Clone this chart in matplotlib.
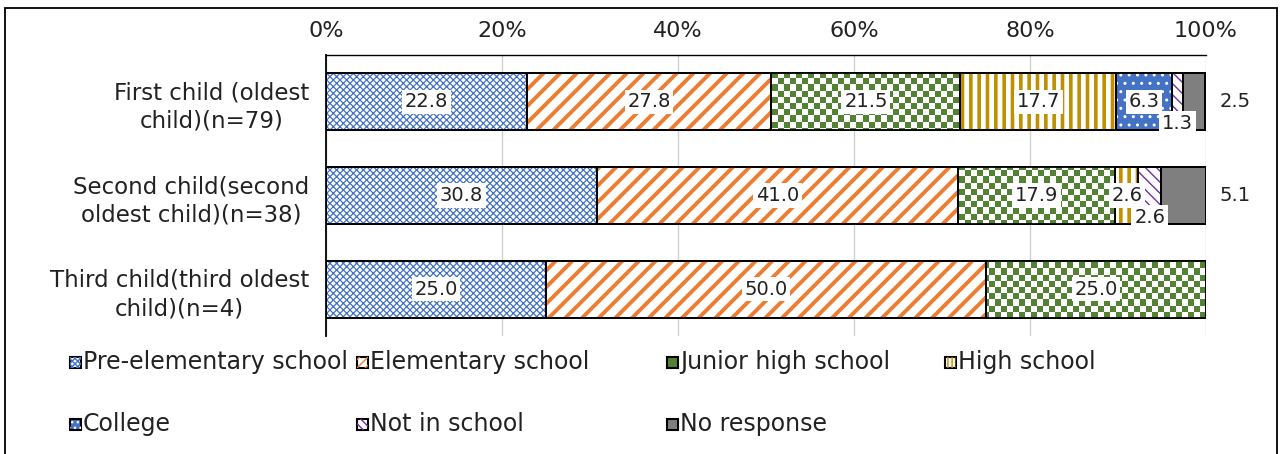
import numpy as np
import matplotlib
matplotlib.use("Agg")
import matplotlib.pyplot as plt
from matplotlib.patches import Rectangle
from matplotlib.colors import ListedColormap

plt.rcParams['font.family'] = ['DejaVu Sans']

categories = ["First child (oldest\nchild)(n=79)",
              "Second child(second\noldest child)(n=38)",
              "Third child(third oldest\nchild)(n=4)"]
series_names = ["Pre-elementary school", "Elementary school", "Junior high school",
                "High school", "College", "Not in school", "No response"]
pre_elem = [22.8, 30.8, 25.0]
elementary = [27.8, 41.0, 50.0]
junior_high = [21.5, 17.9, 25.0]
high_school = [17.7, 2.6, 0.0]
college = [6.3, 0.0, 0.0]
not_in_school = [1.3, 2.6, 0.0]
no_response = [2.5, 5.1, 0.0]
x_ticks = [0, 20, 40, 60, 80, 100]
x_tick_labels = ["0%", "20%", "40%", "60%", "80%", "100%"]

series = [pre_elem, elementary, junior_high, high_school, college, not_in_school, no_response]

# style: (face, hatch, hatch color)
styles = [
    ("white", "xxxxx", "#4472C4"),
    ("white", "//", "#ED7D31"),
    ("white", None, "#548235"),     # checker
    ("white", "||", "#BF9000"),
    ("#4472C4", "..", "white"),
    ("white", "\\\\\\", "#7030A0"),
    ("#7F7F7F", None, None),
]
hatch_lw = [0.9, 2.8, 0, 2.6, 1.0, 1.0, 0]
legend_styles = [
    ("white", "xxxxxx", "#4472C4"),
    ("white", "////", "#ED7D31"),
    ("#548235", None, None),
    ("white", "||||", "#BF9000"),
    ("#4472C4", "...", "white"),
    ("white", "\\\\\\\\", "#7030A0"),
    ("#7F7F7F", None, None),
]
TXT = "#222222"

W, H = 1280, 454
fig = plt.figure(figsize=(W / 100, H / 100), dpi=100)
ax = fig.add_axes([326 / W, 1 - 336 / H, 880 / W, 281 / H])

y = np.arange(len(categories))
bh = 0.61
left = np.zeros(len(categories))

def set_hlw(p, lw):
    if hasattr(p, "set_hatch_linewidth"):
        p.set_hatch_linewidth(lw)

# checkerboard texture
ncx, ncy = int(880 / 6), int(281 / 6)
checker = (np.add.outer(np.arange(ncy), np.arange(ncx)) % 2).astype(float)
cmap_chk = ListedColormap(["white", "#548235"])

for i, vals in enumerate(series):
    face, hatch, hcol = styles[i]
    vals = np.array(vals)
    plt.rcParams['hatch.linewidth'] = hatch_lw[i] if hatch_lw[i] > 0 else 1.0
    bars = ax.barh(y, vals, left=left, height=bh, color=face, edgecolor="black",
                   linewidth=1.3, zorder=2)
    if hatch is not None:
        over = ax.barh(y, vals, left=left, height=bh, color="none", edgecolor=hcol,
                       linewidth=0, hatch=hatch, zorder=3)
        for p in over:
            set_hlw(p, hatch_lw[i])
    if i == 2:
        for b in bars:
            if b.get_width() > 0:
                im = ax.imshow(checker, cmap=cmap_chk, extent=[0, 100, 2.5, -0.5],
                               aspect="auto", interpolation="nearest", zorder=3)
                im.set_clip_path(b)
    ax.barh(y, vals, left=left, height=bh, color="none", edgecolor="black",
            linewidth=1.3, zorder=4)
    left = left + vals
plt.rcParams['hatch.linewidth'] = 1.0

ax.set_xlim(0, 100)
ax.set_ylim(2.5, -0.5)
ax.set_xticks(x_ticks)
ax.set_xticklabels(x_tick_labels, fontsize=16)
ax.xaxis.tick_top()
ax.tick_params(axis="x", length=0, pad=10, colors=TXT)
ax.set_yticks(y)
ax.set_yticklabels(categories, fontsize=16.5, multialignment="center", linespacing=1.3)
ax.tick_params(axis="y", length=0, pad=12, colors=TXT)
ax.grid(axis="x", color="#D0D0D0", linewidth=1.0, zorder=0)
ax.set_axisbelow(True)
for s in ["right", "bottom"]:
    ax.spines[s].set_visible(False)
ax.spines["left"].set_linewidth(1.3)
ax.spines["top"].set_linewidth(1.0)

# data labels
box = dict(facecolor="white", edgecolor="none", pad=2.0)
cum = np.zeros(len(categories))
for i, vals in enumerate(series):
    for j, v in enumerate(vals):
        if v <= 0:
            continue
        cx = cum[j] + v / 2
        cy = y[j]
        txt = f"{v:.1f}"
        if i == 6:
            ax.text(103.3, cy, txt, ha="center", va="center", fontsize=14, color=TXT)
            continue
        if v < 2.0 or (i == 5 and v < 3):
            cy = y[j] + 0.23
        ax.text(cx, cy, txt, ha="center", va="center", fontsize=14, color=TXT,
                bbox=box, zorder=6, clip_on=False)
    cum = cum + np.array(vals)

# legend (manual)
leg_pos = [(75, 362), (362, 362), (672, 362), (950, 362),
           (75, 424), (362, 424), (672, 424)]
for k, name in enumerate(series_names):
    px, py = leg_pos[k]
    face, hatch, hcol = legend_styles[k]
    fx, fy = px / W, 1 - py / H
    sw, sh = 11 / W, 11 / H
    r = Rectangle((fx - sw / 2, fy - sh / 2), sw, sh, transform=fig.transFigure,
                  facecolor=face, edgecolor="black", linewidth=1.5)
    fig.add_artist(r)
    if hatch is not None:
        r2 = Rectangle((fx - sw / 2, fy - sh / 2), sw, sh, transform=fig.transFigure,
                       facecolor="none", edgecolor=hcol, linewidth=0, hatch=hatch)
        fig.add_artist(r2)
    fig.text((px + 8) / W, fy, name, ha="left", va="center", fontsize=17, color=TXT)

# outer frame
frame = Rectangle((5 / W, -0.05), 1272 / W, 1 - 8 / H + 0.05, transform=fig.transFigure,
                  facecolor="none", edgecolor="black", linewidth=1.3)
fig.add_artist(frame)

fig.savefig("out.png", dpi=100)
